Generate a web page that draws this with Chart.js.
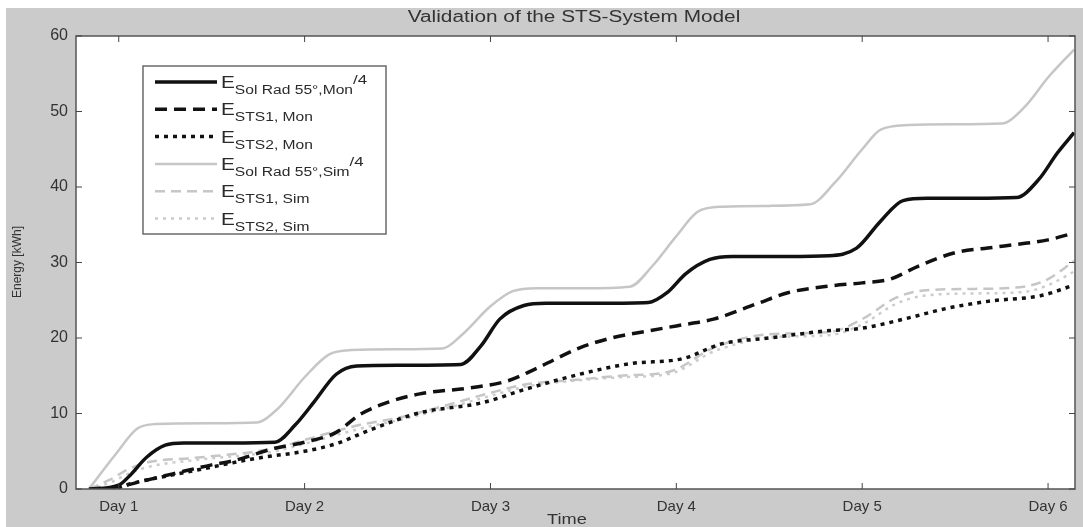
<!DOCTYPE html>
<html>
<head>
<meta charset="utf-8">
<script src="https://cdn.jsdelivr.net/npm/chart.js@4/dist/chart.umd.min.js"></script>
<style>
  html, body { margin: 0; padding: 0; background: #fff; }
  #wrap { width: 1083px; height: 527px; }
</style>
</head>
<body>
<div id="wrap"><canvas id="c" width="1083" height="527"></canvas></div>
<script>
// Cumulative energy over six days (kWh); x values are in days.
const dayLabels = ['Day 1', 'Day 2', 'Day 3', 'Day 4', 'Day 5', 'Day 6'];
const yTicks = [0, 10, 20, 30, 40, 50, 60];

// Solar radiation on 55° plane, monitored, divided by 4
const solMonX = [0.86, 1.0, 1.06, 1.15, 1.25, 1.35, 1.6, 1.84, 1.95, 2.05, 2.17, 2.28, 2.5, 2.84, 2.95, 3.05, 3.18, 3.3, 3.6, 3.85, 3.95, 4.05, 4.18, 4.3, 4.6, 4.82, 4.97, 5.1, 5.22, 5.35, 5.6, 5.83, 5.95, 6.05, 6.14];
const solMonY = [0, 0.5, 1.8, 4.2, 5.8, 6.1, 6.1, 6.2, 8.5, 11.5, 15.2, 16.3, 16.4, 16.5, 19.0, 22.5, 24.3, 24.6, 24.6, 24.7, 26.0, 28.5, 30.4, 30.8, 30.8, 30.9, 31.9, 35.5, 38.2, 38.5, 38.5, 38.6, 41.0, 44.5, 47.2];

// STS1, monitored
const sts1MonX = [0.84, 1.0, 1.12, 1.29, 1.5, 1.61, 1.84, 2.0, 2.17, 2.3, 2.45, 2.62, 2.89, 3.09, 3.25, 3.48, 3.65, 3.84, 4.0, 4.2, 4.44, 4.6, 4.83, 5.0, 5.15, 5.3, 5.5, 5.7, 5.83, 6.0, 6.14];
const sts1MonY = [0, 0.3, 1.0, 2.0, 3.2, 3.7, 5.4, 6.2, 7.5, 9.9, 11.5, 12.6, 13.4, 14.3, 16.0, 18.7, 20.0, 20.9, 21.6, 22.5, 24.6, 26.0, 26.9, 27.3, 27.8, 29.5, 31.3, 32.0, 32.4, 33.0, 33.9];

// STS2, monitored
const sts2MonX = [0.9, 1.0, 1.05, 1.4, 1.75, 2.0, 2.17, 2.35, 2.62, 2.95, 3.2, 3.48, 3.75, 4.04, 4.24, 4.5, 4.79, 5.0, 5.24, 5.45, 5.69, 5.96, 6.14];
const sts2MonY = [0, 0.2, 0.6, 2.4, 4.1, 5.0, 6.0, 7.8, 10.1, 11.4, 13.3, 15.2, 16.6, 17.3, 19.2, 20.0, 20.9, 21.3, 22.6, 23.9, 24.9, 25.6, 27.0];

// Solar radiation on 55° plane, simulated, divided by 4
const solSimX = [0.84, 0.98, 1.1, 1.2, 1.5, 1.74, 1.85, 2.0, 2.13, 2.25, 2.5, 2.74, 2.85, 3.0, 3.12, 3.25, 3.5, 3.75, 3.87, 4.0, 4.12, 4.25, 4.5, 4.72, 4.85, 5.0, 5.1, 5.25, 5.5, 5.75, 5.87, 6.0, 6.14];
const solSimY = [0, 4.5, 8.0, 8.6, 8.7, 8.8, 10.5, 14.8, 17.8, 18.4, 18.5, 18.6, 20.5, 24.2, 26.2, 26.6, 26.6, 26.8, 29.5, 33.5, 36.8, 37.4, 37.5, 37.7, 40.5, 45.0, 47.6, 48.2, 48.3, 48.4, 50.5, 54.5, 58.2];

// STS1 and STS2, simulated
const simX = [0.84, 0.95, 1.05, 1.17, 1.4, 1.84, 2.0, 2.3, 2.5, 2.75, 2.98, 3.2, 3.43, 3.7, 3.97, 4.2, 4.43, 4.6, 4.83, 5.0, 5.18, 5.33, 5.6, 5.87, 6.0, 6.14];
const sts1SimY = [0, 1.2, 2.6, 3.6, 4.1, 5.4, 6.5, 8.5, 9.4, 11.0, 12.6, 13.9, 14.4, 15.0, 15.6, 18.7, 20.3, 20.6, 20.8, 22.5, 25.3, 26.3, 26.5, 26.8, 27.8, 30.2];
const sts2SimY = [0, 0.8, 2.0, 3.0, 3.8, 5.0, 6.0, 8.0, 9.1, 10.6, 12.2, 13.6, 14.3, 14.8, 15.3, 18.2, 19.8, 20.2, 20.4, 21.8, 24.5, 25.6, 25.9, 26.1, 27.0, 28.8];

// Legend labels: main symbol, subscript, trailing suffix
const legendSub = ['Sol Rad 55°,Mon', 'STS1, Mon', 'STS2, Mon', 'Sol Rad 55°,Sim', 'STS1, Sim', 'STS2, Sim'];
const legendSuffix = ['/4', '', '', '/4', '', ''];

const pts = (xs, ys) => xs.map((x, i) => ({ x: x, y: ys[i] }));

const FONT = '"Liberation Sans", Arial, sans-serif';
const STRETCH = 1.3; // horizontal widening of the figure's lettering

function wideText(ctx, text, x, y, font, align) {
  ctx.save();
  ctx.font = font;
  ctx.textAlign = align || 'left';
  ctx.translate(x, y);
  ctx.scale(STRETCH, 1);
  ctx.fillText(text, 0, 0);
  const w = ctx.measureText(text).width * STRETCH;
  ctx.restore();
  return w;
}

const frame = {
  id: 'frame',
  beforeDraw(chart) {
    const { ctx, chartArea: a, width, height } = chart;
    ctx.save();
    ctx.fillStyle = '#ffffff';
    ctx.fillRect(0, 0, width, height);
    ctx.fillStyle = '#cbcbcb';
    ctx.fillRect(6, 8, width - 6, height - 8);
    ctx.fillStyle = '#ffffff';
    ctx.fillRect(a.left, a.top, a.right - a.left, a.bottom - a.top);
    ctx.restore();
  },
  afterDatasetsDraw(chart) {
    const { ctx } = chart;
    // Legend box
    const bx = 143, by = 66, bw = 243, bh = 168;
    ctx.save();
    ctx.fillStyle = '#ffffff';
    ctx.fillRect(bx, by, bw, bh);
    ctx.strokeStyle = '#6a6a6a';
    ctx.lineWidth = 1.5;
    ctx.strokeRect(bx, by, bw, bh);
    chart.data.datasets.forEach((ds, i) => {
      const y = 82 + i * 27.3;
      ctx.save();
      ctx.strokeStyle = ds.borderColor;
      ctx.lineWidth = ds.borderWidth;
      ctx.setLineDash(ds.borderDash || []);
      ctx.beginPath();
      ctx.moveTo(155, y);
      ctx.lineTo(217, y);
      ctx.stroke();
      ctx.restore();
      ctx.fillStyle = '#2a2a2a';
      ctx.textBaseline = 'alphabetic';
      let x = 221;
      x += wideText(ctx, 'E', x, y + 6, '16px ' + FONT);
      x += wideText(ctx, legendSub[i], x, y + 12, '12px ' + FONT);
      if (legendSuffix[i]) {
        wideText(ctx, legendSuffix[i], x, y + 2, '13px ' + FONT);
      }
    });
    ctx.restore();
  },
  afterDraw(chart) {
    const { ctx, chartArea: a, scales } = chart;
    ctx.save();
    // Axes frame
    ctx.strokeStyle = '#555555';
    ctx.lineWidth = 1.5;
    ctx.strokeRect(a.left, a.top, a.right - a.left, a.bottom - a.top);
    // Inward tick marks on all four sides
    ctx.lineWidth = 1;
    ctx.strokeStyle = '#444444';
    ctx.beginPath();
    dayLabels.forEach((_, i) => {
      const px = scales.x.getPixelForValue(i + 1);
      ctx.moveTo(px, a.bottom); ctx.lineTo(px, a.bottom - 6);
      ctx.moveTo(px, a.top); ctx.lineTo(px, a.top + 6);
    });
    yTicks.forEach(v => {
      const py = scales.y.getPixelForValue(v);
      ctx.moveTo(a.left, py); ctx.lineTo(a.left + 6, py);
      ctx.moveTo(a.right, py); ctx.lineTo(a.right - 6, py);
    });
    ctx.stroke();
    // Title and axis titles
    ctx.fillStyle = '#333333';
    ctx.textBaseline = 'middle';
    wideText(ctx, 'Validation of the STS-System Model', 574, 18, '16px ' + FONT, 'center');
    wideText(ctx, 'Time', 567, 520, '14px ' + FONT, 'center');
    ctx.translate(18, 262);
    ctx.rotate(-Math.PI / 2);
    ctx.textAlign = 'center';
    ctx.font = '12px ' + FONT;
    ctx.fillText('Energy [kWh]', 0, 0);
    ctx.restore();
  }
};

new Chart(document.getElementById('c'), {
  type: 'line',
  data: {
    datasets: [
      { label: 'E Sol Rad 55°,Mon /4', data: pts(solMonX, solMonY), borderColor: '#111111', borderWidth: 3.5, borderDash: [] },
      { label: 'E STS1, Mon', data: pts(sts1MonX, sts1MonY), borderColor: '#111111', borderWidth: 3.5, borderDash: [12, 7] },
      { label: 'E STS2, Mon', data: pts(sts2MonX, sts2MonY), borderColor: '#111111', borderWidth: 3.5, borderDash: [4, 5] },
      { label: 'E Sol Rad 55°,Sim /4', data: pts(solSimX, solSimY), borderColor: '#c6c6c6', borderWidth: 2.5, borderDash: [] },
      { label: 'E STS1, Sim', data: pts(simX, sts1SimY), borderColor: '#c6c6c6', borderWidth: 2.5, borderDash: [10, 6] },
      { label: 'E STS2, Sim', data: pts(simX, sts2SimY), borderColor: '#cccccc', borderWidth: 2.5, borderDash: [3, 5] }
    ]
  },
  options: {
    responsive: false,
    animation: false,
    layout: { padding: { left: 0, top: 36, right: 8, bottom: 0 } },
    elements: {
      point: { radius: 0 },
      line: { cubicInterpolationMode: 'monotone', fill: false, borderCapStyle: 'butt', borderJoinStyle: 'round' }
    },
    plugins: { legend: { display: false }, title: { display: false }, tooltip: { enabled: false } },
    scales: {
      x: {
        type: 'linear',
        min: 0.77,
        max: 6.145,
        afterBuildTicks: (scale) => { scale.ticks = dayLabels.map((_, i) => ({ value: i + 1 })); },
        afterFit: (scale) => { scale.height = 38; },
        grid: { display: false, drawTicks: false },
        border: { display: false },
        ticks: {
          autoSkip: false,
          maxRotation: 0,
          padding: 9,
          color: '#333333',
          font: { family: FONT, size: 15 },
          callback: (v) => dayLabels[Math.round(v) - 1]
        }
      },
      y: {
        min: 0,
        max: 60,
        afterBuildTicks: (scale) => { scale.ticks = yTicks.map(v => ({ value: v })); },
        afterFit: (scale) => { scale.width = 76; },
        grid: { display: false, drawTicks: false },
        border: { display: false },
        ticks: {
          padding: 8,
          color: '#333333',
          font: { family: FONT, size: 16 }
        }
      }
    }
  },
  plugins: [frame]
});
</script>
</body>
</html>
